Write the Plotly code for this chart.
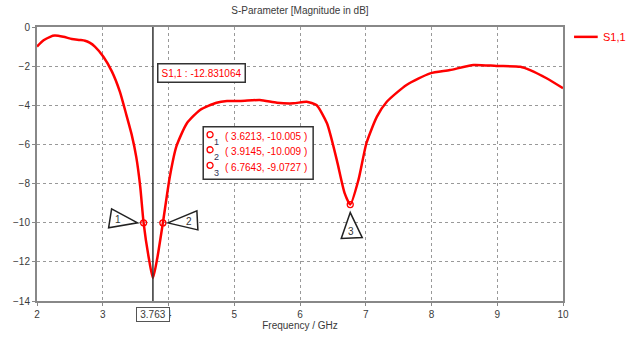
import plotly.graph_objects as go

freq = [2.0, 2.1, 2.2, 2.27, 2.4, 2.53, 2.65, 2.73, 2.8, 2.88, 3.01, 3.14, 3.26, 3.36,
        3.44, 3.51, 3.57, 3.6213, 3.70, 3.763, 3.83, 3.9145, 4.02, 4.12, 4.28, 4.48,
        4.73, 4.89, 5.1, 5.39, 5.65, 5.9, 6.1, 6.25, 6.41, 6.56, 6.68, 6.7643, 6.89,
        7.01, 7.17, 7.32, 7.62, 7.98, 8.28, 8.64, 8.99, 9.35, 9.5, 9.75, 10.0]
s11 = [-1.0, -0.68, -0.5, -0.44, -0.5, -0.61, -0.66, -0.70, -0.8, -1.0, -1.52, -2.28,
       -3.3, -4.5, -5.5, -6.65, -8.16, -10.005, -11.8, -12.831, -11.8, -10.009, -7.65,
       -6.1, -4.92, -4.24, -3.87, -3.78, -3.78, -3.73, -3.87, -3.9, -3.82, -3.99, -4.92,
       -6.8, -8.5, -9.0727, -7.8, -5.94, -4.58, -3.82, -2.96, -2.37, -2.2, -1.94, -1.99,
       -2.03, -2.2, -2.62, -3.13]

marker_x = [3.6213, 3.9145, 6.7643]
marker_y = [-10.005, -10.009, -9.0727]
marker_names = ["1", "2", "3"]
min_freq = 3.763
min_val = -12.831064
series_name = "S1,1"

x_ticks = [2, 3, 4, 5, 6, 7, 8, 9, 10]
y_ticks = [0, -2, -4, -6, -8, -10, -12, -14]

RED = "#ff0000"
FONT = "Liberation Sans"
TXT = "#3a3a3a"

fig = go.Figure()
fig.add_trace(go.Scatter(x=freq, y=s11, mode="lines", name=series_name, showlegend=False,
                         line=dict(color=RED, width=2.5, shape="spline", smoothing=0.6)))
fig.add_trace(go.Scatter(x=marker_x, y=marker_y, mode="markers", showlegend=False,
                         marker=dict(symbol="circle-open", size=6, color=RED,
                                     line=dict(width=1.3, color=RED))))

shapes = []
annotations = []

# vertical cursor line
shapes.append(dict(type="line", xref="x", yref="paper", x0=min_freq, x1=min_freq,
                   y0=0, y1=1, line=dict(color="#333333", width=1.5)))

# triangle callouts (pixel offsets relative to marker points)
tri_paths = [
    "M -6,0 L -32,14 L -35,-5 Z",
    "M 5,0 L 34,12 L 35,-7 Z",
    "M 0,-8 L -9,-34 L 12,-33 Z",
]
label_shift = [(-26, 3), (26, 1), (1, -27)]
for i in range(3):
    shapes.append(dict(type="path", xref="x", yref="y", xsizemode="pixel", ysizemode="pixel",
                       xanchor=marker_x[i], yanchor=marker_y[i], path=tri_paths[i],
                       fillcolor="white", line=dict(color="#222222", width=1.5), layer="above"))
    annotations.append(dict(x=marker_x[i], y=marker_y[i], xref="x", yref="y",
                            text=marker_names[i], showarrow=False,
                            xshift=label_shift[i][0], yshift=label_shift[i][1],
                            font=dict(family=FONT, size=10, color="#333333")))

# minimum value box
annotations.append(dict(x=min_freq, y=-2.33, xref="x", yref="y", xanchor="left",
                        xshift=4, text="%s : %.6f" % (series_name, min_val), showarrow=False,
                        font=dict(family=FONT, size=10, color=RED),
                        bgcolor="white", bordercolor="#333333", borderwidth=1.5, borderpad=3))

# x-cursor value box
annotations.append(dict(x=min_freq, y=0, xref="x", yref="paper", yanchor="middle",
                        yshift=-13, text="%.3f" % min_freq, showarrow=False, width=30,
                        font=dict(family=FONT, size=10, color=TXT),
                        bgcolor="white", bordercolor="#555555", borderwidth=1, borderpad=1))

# marker table box
shapes.append(dict(type="rect", xref="paper", yref="paper", x0=0.316, x1=0.525,
                   y0=0.444, y1=0.636, fillcolor="white",
                   line=dict(color="#333333", width=1.5), layer="above"))
row_y = [0.599, 0.544, 0.487]
for i in range(3):
    shapes.append(dict(type="circle", xref="paper", yref="paper", xsizemode="pixel",
                       ysizemode="pixel", xanchor=0.329, yanchor=row_y[i] + 0.008,
                       x0=-3, x1=3, y0=-3, y1=3, line=dict(color=RED, width=1.3),
                       layer="above"))
    annotations.append(dict(x=0.333, y=row_y[i] - 0.02, xref="paper", yref="paper",
                            text=marker_names[i], showarrow=False,
                            font=dict(family=FONT, size=9, color="#333355")))
    annotations.append(dict(x=0.354, y=row_y[i], xref="paper", yref="paper", xanchor="left",
                            text="( %s, %s )" % (marker_x[i], marker_y[i]), showarrow=False,
                            font=dict(family=FONT, size=10, color=RED)))

# manual legend
shapes.append(dict(type="line", xref="paper", yref="paper", x0=1.021, x1=1.066,
                   y0=0.964, y1=0.964, line=dict(color=RED, width=2.5)))
annotations.append(dict(x=1.073, y=0.964, xref="paper", yref="paper", xanchor="left",
                        yanchor="middle", text=series_name, showarrow=False,
                        font=dict(family=FONT, size=11, color=RED)))

axis_common = dict(showgrid=True, gridcolor="#999999", griddash="dot", gridwidth=1,
                   showline=True, linecolor="#888888", linewidth=2, mirror=True,
                   ticks="outside", ticklen=3, tickcolor="#888888", zeroline=False,
                   automargin=False,
                   tickfont=dict(family=FONT, size=10, color=TXT))

fig.update_layout(
    width=633, height=341,
    margin=dict(l=37, r=70, t=27, b=40, autoexpand=False),
    paper_bgcolor="white", plot_bgcolor="white",
    showlegend=False,
    title=dict(text="S-Parameter [Magnitude in dB]", x=0.5, xref="paper",
               y=0.97, yanchor="middle", font=dict(family=FONT, size=10, color=TXT)),
    xaxis=dict(range=[2, 10], tickvals=x_ticks, title=dict(text="Frequency / GHz",
               standoff=2, font=dict(family=FONT, size=10, color=TXT)), **axis_common),
    yaxis=dict(range=[-14, 0], tickvals=y_ticks, **axis_common),
    shapes=shapes, annotations=annotations,
)

fig.write_html("out.html", config={"displayModeBar": False},
               post_script="document.body.style.margin='0';")
